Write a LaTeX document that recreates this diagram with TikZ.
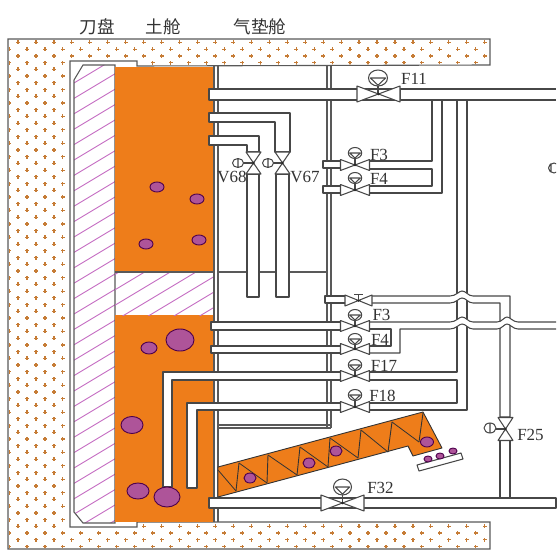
\documentclass[tikz,border=0pt]{standalone}
\usepackage{fontspec}
\setmainfont{Liberation Serif}
\newfontfamily\cjkfont{Noto Sans CJK SC}

\tikzset{
    pipeline/.style={draw=black!72, line width=1.05pt, line join=round},
    pipefill/.style={fill=white, draw=black!72, line width=1.05pt, line join=round},
    wall/.style={draw=black!65, line width=1.1pt},
    ball/.style={draw=violet!60!black, fill=ballpurple, line width=0.9pt},
    hatchline/.style={draw=hatchpink, line width=0.9pt},
    tag/.style={inner sep=0pt, font=\fontsize{17}{17}\selectfont, text=black!80},
    cjktag/.style={inner sep=0pt, font=\cjkfont\fontsize{17.5}{17.5}\selectfont, text=black!80},
    pics/valveh/.style n args={2}{code={
        \draw[pipefill] (-#1,-#2) -- (#1,#2) -- (#1,-#2) -- (-#1,#2) -- cycle;
        \fill[black!85] (0,0) circle (1.4);
    }},
    pics/valvev/.style n args={2}{code={
        \draw[pipefill] (-#1,-#2) -- (#1,-#2) -- (-#1,#2) -- (#1,#2) -- cycle;
        \fill[black!85] (0,0) circle (1.4);
    }},
    pics/gauge/.style n args={2}{code={
        \draw[pipeline, fill=white] (0,0) ellipse (#1 and #2);
        \draw[pipeline] (-#1*0.8,0) -- (#1*0.8,0) -- (0,#2*0.9) -- cycle;
    }}
}
\definecolor{soilorange}{HTML}{EE7D1A}
\definecolor{ballpurple}{HTML}{AE5499}
\definecolor{hatchpink}{HTML}{C46CC2}
\definecolor{groundplus}{HTML}{C67C36}

\begin{document}
\begin{tikzpicture}[x=1pt, y=-1pt]
\useasboundingbox (0,0) rectangle (560,559);

% ground
\draw[wall, fill=white] (8,39) -- (490,39) -- (490,65) -- (137,66) -- (137,61) -- (70,61) -- (70,527) -- (137,527) -- (137,522) -- (490,522) -- (490,549) -- (8,549) -- cycle;
\begin{scope}
\clip (9,40) -- (489,40) -- (489,64) -- (137,65) -- (137,60) -- (69,60) -- (69,528) -- (137,528) -- (137,523) -- (489,523) -- (489,548) -- (9,548) -- cycle;
\foreach \row in {0,...,76} {
    \pgfmathsetmacro{\rowy}{42.5+\row*6.72}
    \pgfmathsetmacro{\shiftx}{mod(\row,2)==0 ? 0 : -9}
    \foreach \col in {0,...,27} {
        \pgfmathsetmacro{\colx}{18+\col*17.95+\shiftx}
        \fill[groundplus] (\colx-2,\rowy-0.6) rectangle (\colx+2,\rowy+0.6);
        \fill[groundplus] (\colx-0.6,\rowy-2) rectangle (\colx+0.6,\rowy+2);
    }
}
\end{scope}

% cutter head
\begin{scope}
\clip (74,80) -- (83,65) -- (115,65) -- (115,523) -- (83,523) -- (74,512) -- cycle;
\foreach \hy in {0,...,36} {
    \draw[hatchline] (70,\hy*15.4+70) -- (120,\hy*15.4+40);
}
\end{scope}
\draw[wall] (74,80) -- (83,65) -- (115,65) -- (115,523) -- (83,523) -- (74,512) -- cycle;

% soil chamber
\fill[soilorange] (115,67) rectangle (214,272);
\fill[soilorange] (115,315) rectangle (214,522);
\begin{scope}
\clip (115,272) rectangle (214,315);
\foreach \hy in {0,...,8} {
    \draw[hatchline] (110,\hy*15.4+262) -- (220,\hy*15.4+196);
}
\end{scope}
\draw[wall] (115,272) -- (214,272);
\draw[wall] (214,66) -- (214,522) (218,66) -- (218,522);
\draw[wall] (327,66) -- (327,428) (331,66) -- (331,428);
\draw[wall] (218,272) -- (327,272);
\draw[wall] (218,425) -- (331,425) (218,428) -- (331,428);

% lost balls
\foreach \bx/\by/\brx/\bry in {157/187/7/5, 197/199/7/5, 146/244/7/5, 199/240/7/5, 180/340/14/11, 149/348/8/6, 132/425/11/8.5, 138/491/11/8} {
    \draw[ball] (\bx,\by) ellipse (\brx pt and \bry pt);
}

% pipes to the valves
\draw[pipefill] (209,89) rectangle (400,100);
\draw[pipefill] (209,113) -- (290,113) -- (290,152) -- (275,152) -- (275,122) -- (209,122) -- cycle;
\draw[pipefill] (209,136) -- (259,136) -- (259,152) -- (247,152) -- (247,145) -- (209,145) -- cycle;
\draw[pipefill] (247,174) rectangle (259,297);
\draw[pipefill] (276,174) rectangle (289,297);
\draw[pipeline] (400,89) -- (556,89) (400,100) -- (556,100);
\draw[pipeline] (432,100) -- (432,161) -- (370,161);
\draw[pipeline] (370,169) -- (432,169) -- (432,186) -- (370,186);
\draw[pipeline] (442,100) -- (442,193) -- (370,193);
\draw[pipefill] (323,161) rectangle (341,168);
\draw[pipefill] (323,186) rectangle (341,193);
\draw[pipeline] (457,100) -- (457,372) -- (370,372);
\draw[pipeline] (370,380) -- (457,380) -- (457,403) -- (370,403);
\draw[pipeline] (467,100) -- (467,410) -- (370,410);

% pipes with bridges
\draw[pipeline, fill=white] (372,296) -- (450,296) .. controls (456,296) and (459,291) .. (462,291) .. controls (466,291) and (468,296) .. (473,296) -- (510,296) -- (510,417) -- (500,417) -- (500,303) -- (473,303) .. controls (468,303) and (466,298) .. (462,298) .. controls (459,298) and (456,303) .. (450,303) -- (372,303);
\draw[pipefill] (325,296) rectangle (346,303);
\fill[white] (400,322) -- (450,322) .. controls (456,322) and (459,317) .. (462,317) .. controls (466,317) and (468,322) .. (473,322) -- (497,322) .. controls (502,322) and (504,317) .. (507,317) .. controls (510,317) and (513,322) .. (518,322) -- (556,322) -- (556,329) -- (518,329) .. controls (513,329) and (510,324) .. (507,324) .. controls (504,324) and (502,329) .. (497,329) -- (473,329) .. controls (468,329) and (466,324) .. (462,324) .. controls (459,324) and (456,329) .. (450,329) -- (400,329) -- cycle;
\draw[pipeline] (370,322) -- (450,322) .. controls (456,322) and (459,317) .. (462,317) .. controls (466,317) and (468,322) .. (473,322) -- (497,322) .. controls (502,322) and (504,317) .. (507,317) .. controls (510,317) and (513,322) .. (518,322) -- (556,322);
\draw[pipeline] (556,329) -- (518,329) .. controls (513,329) and (510,324) .. (507,324) .. controls (504,324) and (502,329) .. (497,329) -- (473,329) .. controls (468,329) and (466,324) .. (462,324) .. controls (459,324) and (456,329) .. (450,329) -- (400,329) -- (400,353) -- (370,353);
\draw[pipeline] (370,329) -- (391,329) -- (391,346) -- (370,346);
\draw[pipefill] (211,322) rectangle (341,330);
\draw[pipefill] (211,346) rectangle (341,353);
\draw[pipefill] (341,372) -- (163,372) -- (163,487) -- (172,487) -- (172,380) -- (341,380);
\draw[pipefill] (341,403) -- (187,403) -- (187,488) -- (197,488) -- (197,410) -- (341,410);

% bottom pipe
\draw[pipefill] (209,498) rectangle (556,508);
\draw[pipeline] (500,440) -- (500,498) (510,440) -- (510,498);
\draw[ball] (167,497) ellipse (13 and 10);

% screw conveyor
\draw[draw=black!80, fill=soilorange, line width=0.9pt, line join=round] (218,467) -- (423,412) -- (442,448) -- (413,456) -- (408,446) -- (218,497) -- cycle;
\draw[black!80, line width=0.9pt] (239,463) -- (236,491) (268,455) -- (267,483) (300,447) -- (297,475) (330,438) -- (328,467) (361,430) -- (358,458) (392,422) -- (388,452) (423,413) -- (419,442);
\draw[black!80, line width=0.8pt] (218,470) -- (236,491) (239,463) -- (267,483) (268,455) -- (297,475) (300,447) -- (328,467) (330,438) -- (358,458) (361,430) -- (388,452) (392,422) -- (419,442);
\foreach \bx/\by/\brx/\bry in {250/478/6/5, 309/463/6/5, 336/451/6/5, 427/442/6.5/5} {
    \draw[ball] (\bx,\by) ellipse (\brx pt and \bry pt);
}

% tray
\draw[pipeline, fill=white] (417,465) -- (461,453) -- (463,459) -- (419,471) -- cycle;
\foreach \bx/\by in {428/459, 440/456, 453/451} {
    \draw[ball] (\bx,\by) ellipse (4 and 3);
}

% valves
\draw[pipeline] (378,78) -- (378,94);
\pic at (378,78) {gauge={9.5}{8}};
\pic at (378.5,94) {valveh={21.5}{8}};
\foreach \vy/\gy in {165/153, 190/178, 326/315, 349/339, 376/365, 407/395} {
    \draw[pipeline] (355,\gy) -- (355,\vy);
    \pic at (355,\gy) {gauge={6.7}{5.5}};
    \pic at (355,\vy) {valveh={14.5}{5.5}};
}
\pic at (358.5,300.5) {valveh={13.5}{5.5}};
\draw[pipeline] (358.5,294.5) -- (358.5,300) (354,294.5) -- (363,294.5);
\draw[pipeline] (342.5,487) -- (342.5,503);
\pic at (342.5,487) {gauge={9}{8}};
\pic at (342.5,503) {valveh={21.5}{8}};

\draw[pipeline] (240,163) -- (253,163);
\draw[pipeline, fill=white] (238,163) ellipse (5.5 and 4.5) (238,158.5) -- (238,167.5);
\pic at (253.5,163) {valvev={7.5}{11}};
\draw[pipeline] (270,163) -- (283,163);
\draw[pipeline, fill=white] (268,163) ellipse (5.5 and 4.5) (268,158.5) -- (268,167.5);
\pic at (282.5,163) {valvev={7.5}{11}};
\draw[pipeline] (492,429) -- (505,429);
\draw[pipeline, fill=white] (490,428) ellipse (6 and 5) (490,423) -- (490,433);
\pic at (505.5,429) {valvev={7.5}{11.5}};

% cut gauge at the edge
\begin{scope}
\clip (545,160) rectangle (556,176);
\draw[pipeline] (554,168) ellipse (5.5 and 5) (551,163.5) -- (551,172.5);
\end{scope}

% labels
\node[cjktag] (cutter) at (97,27) {刀盘};
\node[cjktag] (soil) at (163,27) {土舱};
\node[cjktag] (cushion) at (260,27) {气垫舱};
\node[tag] (f11) at (414,79) {F11};
\node[tag] (f3a) at (379,155) {F3};
\node[tag] (f4a) at (379,179) {F4};
\node[tag] (v68) at (232,177) {V68};
\node[tag] (v67) at (305,177) {V67};
\node[tag] (f3b) at (381.5,315) {F3};
\node[tag] (f4b) at (380,340) {F4};
\node[tag] (f17) at (384,366) {F17};
\node[tag] (f18) at (382.5,396) {F18};
\node[tag] (f25) at (530.5,435) {F25};
\node[tag] (f32) at (380.5,488) {F32};

\end{tikzpicture}
\end{document}
